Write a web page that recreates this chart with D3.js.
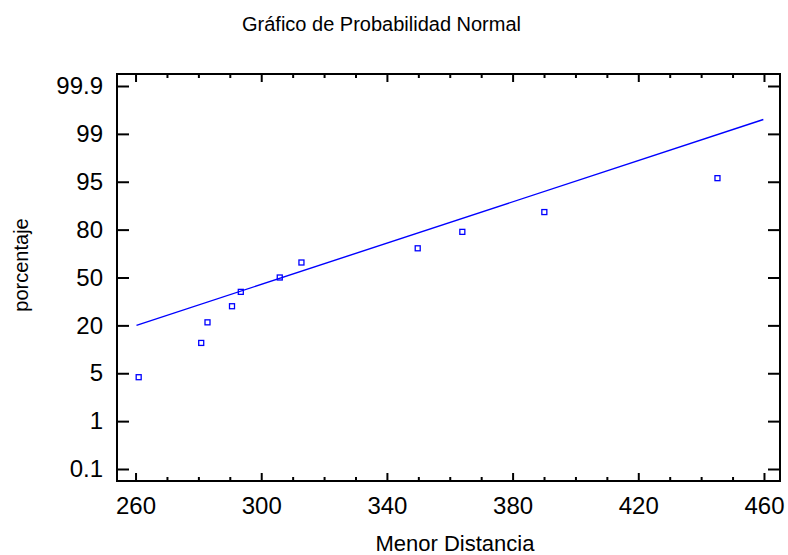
<!DOCTYPE html>
<html>
<head>
  <meta charset="utf-8">
  <script src="https://d3js.org/d3.v7.min.js"></script>
  <style>
    body { margin: 0; background: #fff; }
    text { font-family: "Liberation Sans", Arial, sans-serif; }
  </style>
</head>
<body>
<script>
// data
var distancia = [261, 280.9, 282.9, 290.7, 293.5, 305.9, 312.8, 349.8, 364.0, 390.1, 445.2];
var porcentaje = [4.67, 14.5, 21.9, 32, 41, 50, 59.4, 68.3, 78.6, 85.5, 95.3];
var lineaX = [260.3, 459.8];
var lineaP = [20, 99.27];
var yTicks = [0.1, 1, 5, 20, 50, 80, 95, 99, 99.9];
var xTicks = [260, 300, 340, 380, 420, 460];
var xMinor = d3.range(270, 460, 10).filter(function (d) { return xTicks.indexOf(d) < 0; });

var W = 788, H = 555;
var pLeft = 117, pRight = 780, pTop = 74, pBottom = 481;

var svg = d3.select("body").append("svg")
  .attr("width", W).attr("height", H);

var x = d3.scaleLinear().domain([254.1, 465.1]).range([pLeft, pRight]);

// probability axis: labels are evenly spaced, piecewise between them
var step = (pBottom - pTop - 24) / (yTicks.length - 1);
var y = d3.scaleLinear()
  .domain(yTicks)
  .range(yTicks.map(function (d, i) { return pBottom - 12 - i * step; }));

// axes
var gx = svg.append("g").attr("transform", "translate(0," + pBottom + ")")
  .call(d3.axisBottom(x).tickValues(xTicks).tickSize(-8).tickPadding(16)
    .tickFormat(d3.format("d")));
svg.append("g").attr("transform", "translate(0," + pBottom + ")")
  .call(d3.axisBottom(x).tickValues(xMinor).tickSize(-4).tickFormat(""));
svg.append("g").attr("transform", "translate(0," + pTop + ")")
  .call(d3.axisTop(x).tickValues(xTicks).tickSize(-8).tickFormat(""));
svg.append("g").attr("transform", "translate(0," + pTop + ")")
  .call(d3.axisTop(x).tickValues(xMinor).tickSize(-4).tickFormat(""));

var gy = svg.append("g").attr("transform", "translate(" + pLeft + ",0)")
  .call(d3.axisLeft(y).tickValues(yTicks).tickSize(-12).tickPadding(14)
    .tickFormat(function (d) { return String(d); }));
svg.append("g").attr("transform", "translate(" + pRight + ",0)")
  .call(d3.axisRight(y).tickValues(yTicks).tickSize(-12).tickFormat(""));

svg.selectAll(".domain").remove();
svg.selectAll(".tick line").attr("stroke", "#000").attr("stroke-width", 2);
svg.selectAll(".tick text").attr("fill", "#000").style("font-size", "24px");
gx.selectAll(".tick text").attr("dy", "0.71em");

svg.append("rect")
  .attr("x", pLeft).attr("y", pTop)
  .attr("width", pRight - pLeft).attr("height", pBottom - pTop)
  .attr("fill", "none").attr("stroke", "#000").attr("stroke-width", 2);

// fitted line
svg.append("line")
  .attr("x1", x(lineaX[0])).attr("y1", y(lineaP[0]))
  .attr("x2", x(lineaX[1])).attr("y2", y(lineaP[1]))
  .attr("stroke", "#0000ff").attr("stroke-width", 1.4);

// points
svg.selectAll(".pt")
  .data(distancia)
  .enter().append("rect")
  .attr("class", "pt")
  .attr("x", function (d) { return x(d) - 2.5; })
  .attr("y", function (d, i) { return y(porcentaje[i]) - 2.5; })
  .attr("width", 5).attr("height", 5)
  .attr("fill", "none").attr("stroke", "#0000ff").attr("stroke-width", 1.3);

// titles
svg.append("text")
  .attr("x", 381.5).attr("y", 31)
  .attr("text-anchor", "middle").style("font-size", "20px")
  .text("Gráfico de Probabilidad Normal");

svg.append("text")
  .attr("x", 455).attr("y", 551)
  .attr("text-anchor", "middle").style("font-size", "22px")
  .text("Menor Distancia");

svg.append("text")
  .attr("transform", "translate(28,265) rotate(-90)")
  .attr("text-anchor", "middle").style("font-size", "20px")
  .text("porcentaje");
</script>
</body>
</html>
